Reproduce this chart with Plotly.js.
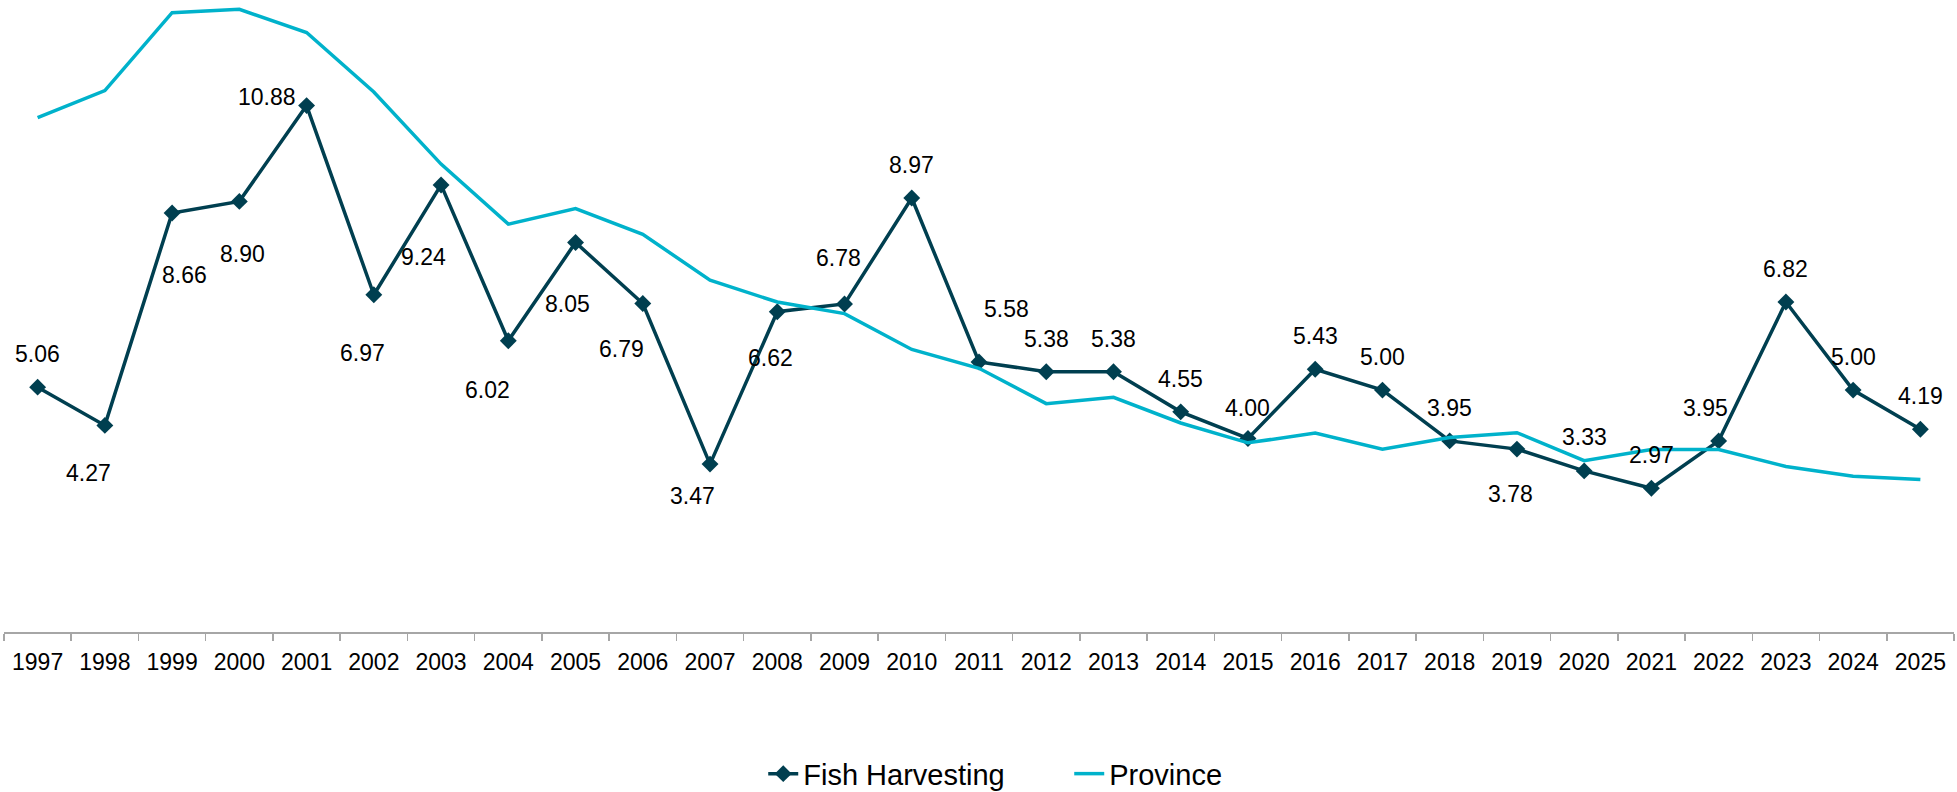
<!DOCTYPE html>
<html>
<head>
<meta charset="utf-8">
<script src="https://cdn.plot.ly/plotly-3.0.1.min.js"></script>
<style>
  html, body { margin: 0; padding: 0; background: #ffffff; }
  #chart { width: 1957px; height: 792px; }
</style>
</head>
<body>
<div id="chart"></div>
<script>
// ---- Data ----
const years = ["1997","1998","1999","2000","2001","2002","2003","2004","2005","2006",
               "2007","2008","2009","2010","2011","2012","2013","2014","2015","2016",
               "2017","2018","2019","2020","2021","2022","2023","2024","2025"];
const fishHarvesting = [5.06, 4.27, 8.66, 8.90, 10.88, 6.97, 9.24, 6.02, 8.05, 6.79,
                        3.47, 6.62, 6.78, 8.97, 5.58, 5.38, 5.38, 4.55, 4.00, 5.43,
                        5.00, 3.95, 3.78, 3.33, 2.97, 3.95, 6.82, 5.00, 4.19];
const province = [10.63, 11.19, 12.80, 12.87, 12.39, 11.16, 9.67, 8.43, 8.75, 8.22,
                  7.27, 6.82, 6.58, 5.84, 5.45, 4.72, 4.85, 4.32, 3.91, 4.11,
                  3.78, 4.02, 4.12, 3.54, 3.77, 3.77, 3.42, 3.22, 3.15];
const seriesNames = ["Fish Harvesting", "Province"];

// ---- Styles: data label offsets in pixels (dx right, dy down) ----
const labelDx = [0, -16, 12, 3, -40, -11, -18, -21, -8, -21,
                 -18, -7, -6, 0, 27, 0, 0, 0, 0, 0,
                 0, 0, -6, 0, 0, -13, 0, 0, 0];
const labelDy = [-33, 48, 62, 53, -9, 58, 72, 49, 61, 46,
                 32, 46, -46, -33, -53, -33, -33, -33, -30, -33,
                 -33, -33, 45, -34, -33, -33, -33, -33, -33];

const FONT = '"Liberation Sans", Arial, Helvetica, sans-serif';
const DARK = '#003F50';
const CYAN = '#00B2CB';
const GREY = '#A6A6A6';

const traces = [
  {
    type: 'scatter', mode: 'lines+markers', name: seriesNames[0],
    x: years, y: fishHarvesting,
    line: { color: DARK, width: 3.5 },
    marker: { symbol: 'diamond', size: 13, color: DARK },
    cliponaxis: false
  },
  {
    type: 'scatter', mode: 'lines', name: seriesNames[1],
    x: years, y: province,
    line: { color: CYAN, width: 3.5 },
    cliponaxis: false
  }
];

// category axis: position i is the i-th category
const annotations = years.map((yr, i) => ({
  x: i, y: fishHarvesting[i], xref: 'x', yref: 'y',
  text: fishHarvesting[i].toFixed(2),
  showarrow: false,
  xanchor: 'center', yanchor: 'middle',
  xshift: labelDx[i], yshift: -labelDy[i],
  font: { family: FONT, size: 23, color: '#000000' }
}));

const layout = {
  width: 1957, height: 792,
  margin: { l: 4, r: 3, t: 3, b: 160, autoexpand: false },
  paper_bgcolor: '#ffffff', plot_bgcolor: '#ffffff',
  font: { family: FONT, size: 23, color: '#000000' },
  showlegend: true,
  legend: {
    orientation: 'h',
    xref: 'container', yref: 'container',
    x: 0.39, xanchor: 'left', y: 0.023, yanchor: 'middle',
    font: { family: FONT, size: 29, color: '#000000' },
    entrywidth: 261, entrywidthmode: 'pixels',
    traceorder: 'normal', bgcolor: 'rgba(0,0,0,0)'
  },
  xaxis: {
    type: 'category',
    categoryorder: 'array', categoryarray: years,
    range: [-0.5, years.length - 0.5], autorange: false,
    showline: true, linecolor: GREY, linewidth: 1.5,
    ticks: 'outside', tickson: 'boundaries', ticklen: 7, tickcolor: GREY, tickwidth: 1.5,
    tickangle: 0, ticklabelstandoff: 9,
    showgrid: false, zeroline: false,
    tickfont: { family: FONT, size: 23, color: '#000000' },
    fixedrange: true
  },
  yaxis: {
    range: [0, 13], autorange: false,
    visible: false, showgrid: false, zeroline: false, showline: false,
    fixedrange: true
  },
  annotations: annotations
};

Plotly.newPlot('chart', traces, layout, { displayModeBar: false, staticPlot: true });
</script>
</body>
</html>
